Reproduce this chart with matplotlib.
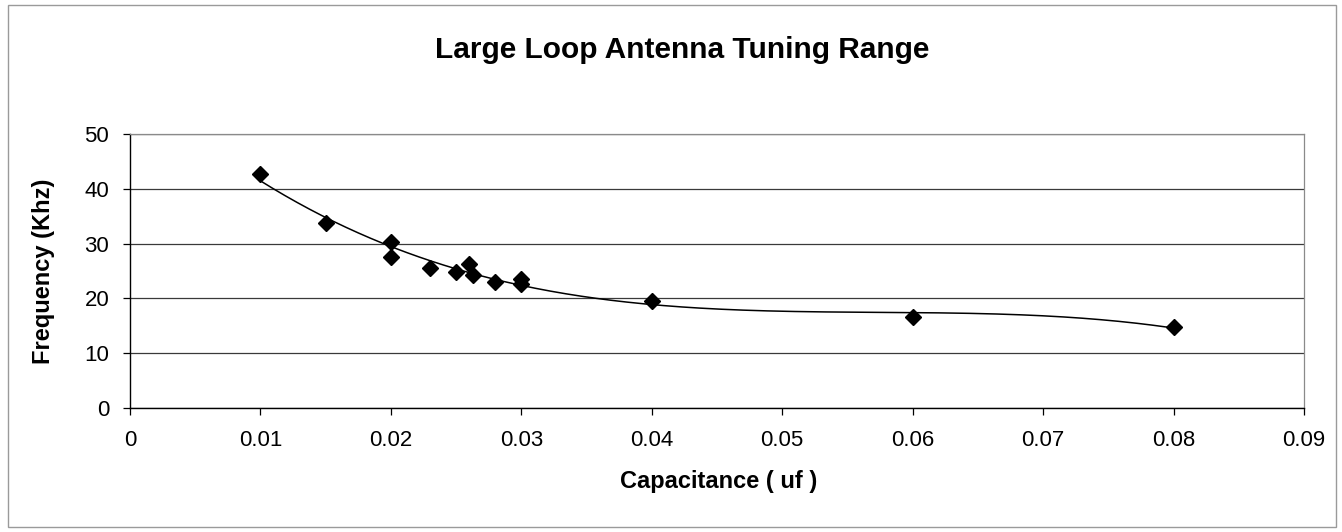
import numpy as np
import matplotlib
matplotlib.use("Agg")
import matplotlib.pyplot as plt
from matplotlib.patches import Rectangle

plt.rcParams['font.family'] = ['Liberation Sans', 'DejaVu Sans']

# measured points (capacitance in uf, frequency in kHz)
cap = [0.01, 0.015, 0.02, 0.02, 0.023, 0.025, 0.026, 0.0263, 0.028, 0.03, 0.03, 0.04, 0.06, 0.08]
freq = [42.7, 33.8, 30.3, 27.6, 25.6, 24.9, 26.3, 24.3, 23.0, 23.6, 22.6, 19.6, 16.6, 14.8]

x_ticks = [0, 0.01, 0.02, 0.03, 0.04, 0.05, 0.06, 0.07, 0.08, 0.09]
x_labels = ['0', '0.01', '0.02', '0.03', '0.04', '0.05', '0.06', '0.07', '0.08', '0.09']
y_ticks = [0, 10, 20, 30, 40, 50]

fig = plt.figure(figsize=(13.42, 5.32), dpi=100)
ax = fig.add_axes([130 / 1342, 1 - 408 / 532, 1174 / 1342, 274 / 532])

# polynomial trendline (3rd order) through the measured points
trend = np.polynomial.Polynomial.fit(cap, freq, 3)
xs = np.linspace(min(cap), max(cap), 300)
ax.plot(xs, trend(xs), color='black', lw=1.1, zorder=3)

ax.plot(cap, freq, 'D', color='black', ms=8.5, zorder=4)

ax.set_xlim(0, 0.09)
ax.set_ylim(0, 50)
ax.set_xticks(x_ticks)
ax.set_xticklabels(x_labels)
ax.set_yticks(y_ticks)
ax.grid(axis='y', color='#3a3a3a', lw=0.9)
ax.set_axisbelow(True)

for s in ['left', 'bottom']:
    ax.spines[s].set_color('black')
    ax.spines[s].set_linewidth(1.0)
for s in ['top', 'right']:
    ax.spines[s].set_color('#8a8a8a')
    ax.spines[s].set_linewidth(0.9)

ax.tick_params(axis='both', direction='out', length=5, width=0.9, labelsize=16, colors='black')
ax.tick_params(axis='x', pad=11)
ax.tick_params(axis='y', pad=10)

ax.set_xlabel('Capacitance ( uf )', fontsize=17, fontweight='bold')
ax.set_ylabel('Frequency (Khz)', fontsize=17, fontweight='bold')
ax.xaxis.set_label_coords(0.501, -0.228)
ax.yaxis.set_label_coords(-0.064, 0.5)

fig.text(0.508, 1 - 50 / 532, 'Large Loop Antenna Tuning Range', fontsize=21.5,
         fontweight='bold', ha='center', va='center')

# chart area border
fig.patches.append(Rectangle((8 / 1342, 5 / 532), 1328 / 1342, 522 / 532,
                             transform=fig.transFigure, fill=False,
                             edgecolor='#9a9a9a', lw=1.0))

fig.savefig('out.png', dpi=100)
